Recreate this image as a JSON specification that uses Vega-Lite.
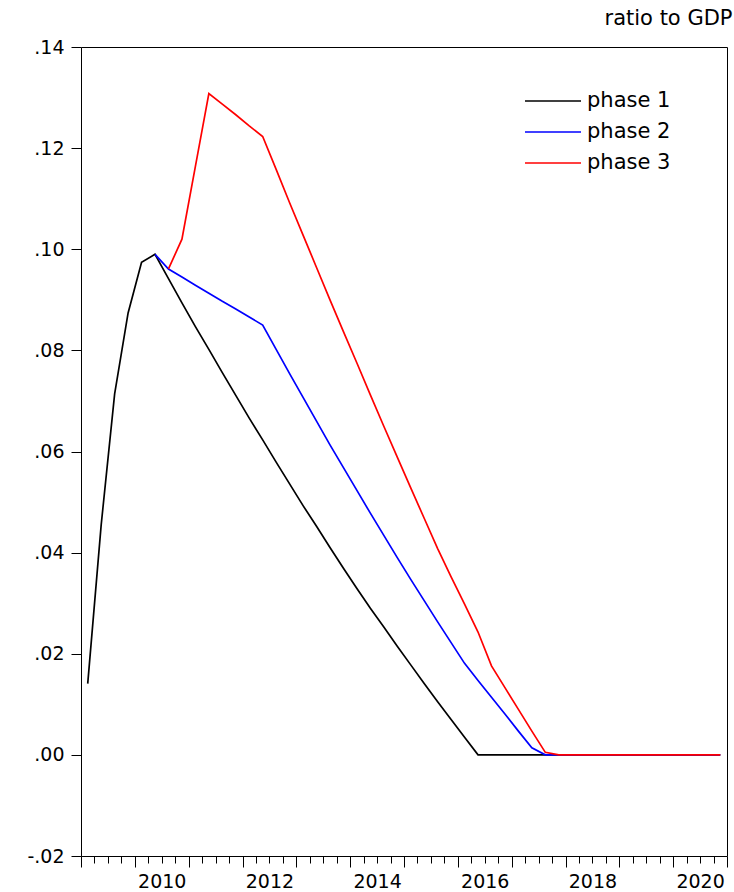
{
  "$schema": "https://vega.github.io/schema/vega-lite/v6.json",
  "width": 646,
  "height": 809,
  "autosize": {"type": "none"},
  "padding": {"left": 81, "top": 47, "right": 7, "bottom": 36},
  "background": "white",
  "config": {
    "view": {"stroke": "black", "strokeWidth": 1},
    "axis": {"grid": false, "domain": false, "tickColor": "black", "labelColor": "black", "labelFont": "DejaVu Sans", "labelFontSize": 19, "tickWidth": 1},
    "font": "DejaVu Sans"
  },
  "title": {"text": "ratio to GDP", "anchor": "end", "fontSize": 21, "font": "DejaVu Sans", "fontWeight": "normal", "color": "black", "offset": 9, "dx": 5},
  "data": {"values": [
    {"t": 2009.125, "s": "phase 1", "v": 0.0141},
    {"t": 2009.375, "s": "phase 1", "v": 0.0455},
    {"t": 2009.625, "s": "phase 1", "v": 0.0714},
    {"t": 2009.875, "s": "phase 1", "v": 0.0874},
    {"t": 2010.125, "s": "phase 1", "v": 0.0974},
    {"t": 2010.375, "s": "phase 1", "v": 0.0990},
    {"t": 2010.625, "s": "phase 1", "v": 0.0942},
    {"t": 2010.875, "s": "phase 1", "v": 0.0894},
    {"t": 2011.125, "s": "phase 1", "v": 0.0847},
    {"t": 2011.375, "s": "phase 1", "v": 0.0802},
    {"t": 2011.625, "s": "phase 1", "v": 0.0756},
    {"t": 2011.875, "s": "phase 1", "v": 0.0711},
    {"t": 2012.125, "s": "phase 1", "v": 0.0666},
    {"t": 2012.375, "s": "phase 1", "v": 0.0623},
    {"t": 2012.625, "s": "phase 1", "v": 0.0579},
    {"t": 2012.875, "s": "phase 1", "v": 0.0536},
    {"t": 2013.125, "s": "phase 1", "v": 0.0493},
    {"t": 2013.375, "s": "phase 1", "v": 0.0452},
    {"t": 2013.625, "s": "phase 1", "v": 0.0410},
    {"t": 2013.875, "s": "phase 1", "v": 0.0369},
    {"t": 2014.125, "s": "phase 1", "v": 0.0329},
    {"t": 2014.375, "s": "phase 1", "v": 0.0290},
    {"t": 2014.625, "s": "phase 1", "v": 0.0253},
    {"t": 2014.875, "s": "phase 1", "v": 0.0215},
    {"t": 2015.125, "s": "phase 1", "v": 0.0178},
    {"t": 2015.375, "s": "phase 1", "v": 0.0141},
    {"t": 2015.625, "s": "phase 1", "v": 0.0105},
    {"t": 2015.875, "s": "phase 1", "v": 0.0070},
    {"t": 2016.125, "s": "phase 1", "v": 0.0035},
    {"t": 2016.375, "s": "phase 1", "v": 0},
    {"t": 2016.625, "s": "phase 1", "v": 0},
    {"t": 2016.875, "s": "phase 1", "v": 0},
    {"t": 2017.125, "s": "phase 1", "v": 0},
    {"t": 2017.375, "s": "phase 1", "v": 0},
    {"t": 2017.625, "s": "phase 1", "v": 0},
    {"t": 2017.875, "s": "phase 1", "v": 0},
    {"t": 2018.125, "s": "phase 1", "v": 0},
    {"t": 2018.375, "s": "phase 1", "v": 0},
    {"t": 2018.625, "s": "phase 1", "v": 0},
    {"t": 2018.875, "s": "phase 1", "v": 0},
    {"t": 2019.125, "s": "phase 1", "v": 0},
    {"t": 2019.375, "s": "phase 1", "v": 0},
    {"t": 2019.625, "s": "phase 1", "v": 0},
    {"t": 2019.875, "s": "phase 1", "v": 0},
    {"t": 2020.125, "s": "phase 1", "v": 0},
    {"t": 2020.375, "s": "phase 1", "v": 0},
    {"t": 2020.625, "s": "phase 1", "v": 0},
    {"t": 2020.875, "s": "phase 1", "v": 0},
    {"t": 2010.375, "s": "phase 2", "v": 0.0990},
    {"t": 2010.625, "s": "phase 2", "v": 0.0961},
    {"t": 2010.875, "s": "phase 2", "v": 0.0945},
    {"t": 2011.125, "s": "phase 2", "v": 0.0929},
    {"t": 2011.375, "s": "phase 2", "v": 0.0913},
    {"t": 2011.625, "s": "phase 2", "v": 0.0897},
    {"t": 2011.875, "s": "phase 2", "v": 0.0882},
    {"t": 2012.125, "s": "phase 2", "v": 0.0866},
    {"t": 2012.375, "s": "phase 2", "v": 0.0850},
    {"t": 2012.625, "s": "phase 2", "v": 0.0802},
    {"t": 2012.875, "s": "phase 2", "v": 0.0754},
    {"t": 2013.125, "s": "phase 2", "v": 0.0707},
    {"t": 2013.375, "s": "phase 2", "v": 0.0660},
    {"t": 2013.625, "s": "phase 2", "v": 0.0613},
    {"t": 2013.875, "s": "phase 2", "v": 0.0568},
    {"t": 2014.125, "s": "phase 2", "v": 0.0523},
    {"t": 2014.375, "s": "phase 2", "v": 0.0478},
    {"t": 2014.625, "s": "phase 2", "v": 0.0434},
    {"t": 2014.875, "s": "phase 2", "v": 0.0390},
    {"t": 2015.125, "s": "phase 2", "v": 0.0347},
    {"t": 2015.375, "s": "phase 2", "v": 0.0305},
    {"t": 2015.625, "s": "phase 2", "v": 0.0263},
    {"t": 2015.875, "s": "phase 2", "v": 0.0222},
    {"t": 2016.125, "s": "phase 2", "v": 0.0181},
    {"t": 2016.375, "s": "phase 2", "v": 0.0147},
    {"t": 2016.625, "s": "phase 2", "v": 0.0114},
    {"t": 2016.875, "s": "phase 2", "v": 0.0081},
    {"t": 2017.125, "s": "phase 2", "v": 0.0047},
    {"t": 2017.375, "s": "phase 2", "v": 0.0014},
    {"t": 2017.625, "s": "phase 2", "v": 0},
    {"t": 2017.875, "s": "phase 2", "v": 0},
    {"t": 2018.125, "s": "phase 2", "v": 0},
    {"t": 2018.375, "s": "phase 2", "v": 0},
    {"t": 2018.625, "s": "phase 2", "v": 0},
    {"t": 2018.875, "s": "phase 2", "v": 0},
    {"t": 2019.125, "s": "phase 2", "v": 0},
    {"t": 2019.375, "s": "phase 2", "v": 0},
    {"t": 2019.625, "s": "phase 2", "v": 0},
    {"t": 2019.875, "s": "phase 2", "v": 0},
    {"t": 2020.125, "s": "phase 2", "v": 0},
    {"t": 2020.375, "s": "phase 2", "v": 0},
    {"t": 2020.625, "s": "phase 2", "v": 0},
    {"t": 2020.875, "s": "phase 2", "v": 0},
    {"t": 2010.625, "s": "phase 3", "v": 0.0961},
    {"t": 2010.875, "s": "phase 3", "v": 0.1020},
    {"t": 2011.125, "s": "phase 3", "v": 0.1164},
    {"t": 2011.375, "s": "phase 3", "v": 0.1308},
    {"t": 2011.625, "s": "phase 3", "v": 0.1287},
    {"t": 2011.875, "s": "phase 3", "v": 0.1266},
    {"t": 2012.125, "s": "phase 3", "v": 0.1244},
    {"t": 2012.375, "s": "phase 3", "v": 0.1223},
    {"t": 2012.625, "s": "phase 3", "v": 0.1158},
    {"t": 2012.875, "s": "phase 3", "v": 0.1092},
    {"t": 2013.125, "s": "phase 3", "v": 0.1028},
    {"t": 2013.375, "s": "phase 3", "v": 0.0964},
    {"t": 2013.625, "s": "phase 3", "v": 0.0900},
    {"t": 2013.875, "s": "phase 3", "v": 0.0837},
    {"t": 2014.125, "s": "phase 3", "v": 0.0775},
    {"t": 2014.375, "s": "phase 3", "v": 0.0712},
    {"t": 2014.625, "s": "phase 3", "v": 0.0650},
    {"t": 2014.875, "s": "phase 3", "v": 0.0589},
    {"t": 2015.125, "s": "phase 3", "v": 0.0528},
    {"t": 2015.375, "s": "phase 3", "v": 0.0468},
    {"t": 2015.625, "s": "phase 3", "v": 0.0408},
    {"t": 2015.875, "s": "phase 3", "v": 0.0352},
    {"t": 2016.125, "s": "phase 3", "v": 0.0298},
    {"t": 2016.375, "s": "phase 3", "v": 0.0243},
    {"t": 2016.625, "s": "phase 3", "v": 0.0176},
    {"t": 2016.875, "s": "phase 3", "v": 0.0133},
    {"t": 2017.125, "s": "phase 3", "v": 0.0090},
    {"t": 2017.375, "s": "phase 3", "v": 0.0047},
    {"t": 2017.625, "s": "phase 3", "v": 0.0005},
    {"t": 2017.875, "s": "phase 3", "v": 0},
    {"t": 2018.125, "s": "phase 3", "v": 0},
    {"t": 2018.375, "s": "phase 3", "v": 0},
    {"t": 2018.625, "s": "phase 3", "v": 0},
    {"t": 2018.875, "s": "phase 3", "v": 0},
    {"t": 2019.125, "s": "phase 3", "v": 0},
    {"t": 2019.375, "s": "phase 3", "v": 0},
    {"t": 2019.625, "s": "phase 3", "v": 0},
    {"t": 2019.875, "s": "phase 3", "v": 0},
    {"t": 2020.125, "s": "phase 3", "v": 0},
    {"t": 2020.375, "s": "phase 3", "v": 0},
    {"t": 2020.625, "s": "phase 3", "v": 0},
    {"t": 2020.875, "s": "phase 3", "v": 0}
  ]},
  "encoding": {
    "y": {
      "field": "v", "type": "quantitative",
      "scale": {"domain": [-0.02, 0.14], "nice": false, "zero": false},
      "axis": {
        "title": null,
        "values": [-0.02, 0, 0.02, 0.04, 0.06, 0.08, 0.1, 0.12, 0.14],
        "labelExpr": "(datum.value < 0 ? '-' : '') + replace(format(abs(datum.value), '.2f'), '0.', '.')",
        "tickSize": 10, "labelPadding": 7
      }
    },
    "color": {
      "field": "s", "type": "nominal",
      "scale": {"domain": ["phase 1", "phase 2", "phase 3"], "range": ["#000000", "#0000ff", "#ff0000"]},
      "legend": {
        "title": null, "orient": "none", "legendX": 457, "legendY": 39,
        "symbolType": "M-2,0H2", "symbolSize": 784, "symbolStrokeWidth": 1.6,
        "labelFontSize": 21, "labelFont": "DejaVu Sans", "labelColor": "black",
        "labelOffset": 19, "rowPadding": 6, "padding": 0
      }
    }
  },
  "resolve": {"axis": {"x": "independent"}},
  "layer": [
    {
      "transform": [{"filter": "datum.s === 'phase 1'"}],
      "mark": {"type": "line", "strokeWidth": 1.7},
      "encoding": {
        "x": {
          "field": "t", "type": "quantitative",
          "scale": {"domain": [2009, 2021], "nice": false, "zero": false},
          "axis": {"orient": "bottom", "title": null, "values": [2009, 2010, 2011, 2012, 2013, 2014, 2015, 2016, 2017, 2018, 2019, 2020, 2021], "labels": false, "tickSize": 11}
        }
      }
    },
    {
      "transform": [{"filter": "datum.s === 'phase 2'"}],
      "mark": {"type": "line", "strokeWidth": 1.7},
      "encoding": {
        "x": {
          "field": "t", "type": "quantitative",
          "axis": {"orient": "bottom", "title": null, "values": [2009.25, 2009.5, 2009.75, 2010.25, 2010.5, 2010.75, 2011.25, 2011.5, 2011.75, 2012.25, 2012.5, 2012.75, 2013.25, 2013.5, 2013.75, 2014.25, 2014.5, 2014.75, 2015.25, 2015.5, 2015.75, 2016.25, 2016.5, 2016.75, 2017.25, 2017.5, 2017.75, 2018.25, 2018.5, 2018.75, 2019.25, 2019.5, 2019.75, 2020.25, 2020.5, 2020.75], "labels": false, "tickSize": 7}
        }
      }
    },
    {
      "transform": [{"filter": "datum.s === 'phase 3'"}],
      "mark": {"type": "line", "strokeWidth": 1.7},
      "encoding": {
        "x": {
          "field": "t", "type": "quantitative",
          "axis": {"orient": "bottom", "title": null, "values": [2010.5, 2012.5, 2014.5, 2016.5, 2018.5, 2020.5], "labelExpr": "'' + floor(datum.value)", "ticks": false, "tickSize": 0, "labelPadding": 16, "labelFlush": false, "labelOverlap": false}
        }
      }
    }
  ]
}
